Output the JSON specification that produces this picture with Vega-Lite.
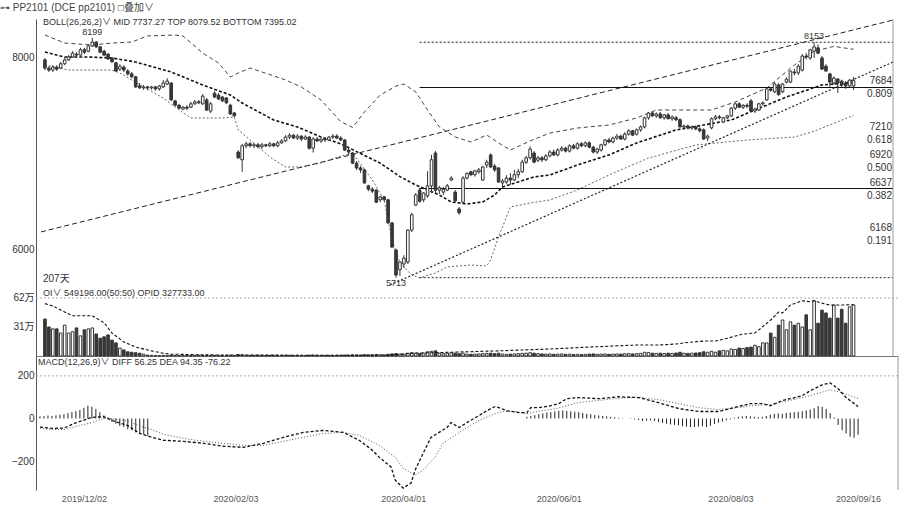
{
"$schema": "https://vega.github.io/schema/vega-lite/v6.json",
"background": "white",
"padding": {"left": 0, "top": 3, "right": 2, "bottom": 2},
"config": {"font": "'Liberation Sans', 'Noto Sans CJK SC', sans-serif", "view": {"stroke": null},
  "axis": {"labelFont": "'Liberation Sans', 'Noto Sans CJK SC', sans-serif", "labelFontSize": 10, "labelColor": "#333", "domainColor": "#555", "grid": false, "ticks": false, "title": null}},
"title": {"text": "⊶ PP2101   (DCE pp2101)   □叠加∨", "anchor": "start", "fontSize": 10, "fontWeight": "normal", "color": "#444", "offset": 5},
"spacing": 0,
"bounds": "flush",
"datasets": {
"k": [
{"i":0,"o":7970,"h":7990,"l":7865,"c":7885,"v":395000,"m":10},
{"i":1,"o":7885,"h":7905,"l":7845,"c":7865,"v":310000,"m":12},
{"i":2,"o":7865,"h":7915,"l":7845,"c":7895,"v":290000,"m":14},
{"i":3,"o":7895,"h":7915,"l":7855,"c":7875,"v":290000,"m":12},
{"i":4,"o":7885,"h":7950,"l":7875,"c":7930,"v":245000,"m":15},
{"i":5,"o":7930,"h":7990,"l":7915,"c":7970,"v":330000,"m":18},
{"i":6,"o":7970,"h":8020,"l":7960,"c":8000,"v":245000,"m":20},
{"i":7,"o":8000,"h":8060,"l":7990,"c":8040,"v":260000,"m":25},
{"i":8,"o":8030,"h":8050,"l":8000,"c":8020,"v":300000,"m":30},
{"i":9,"o":8020,"h":8095,"l":8010,"c":8075,"v":215000,"m":35},
{"i":10,"o":8075,"h":8095,"l":8030,"c":8050,"v":280000,"m":40},
{"i":11,"o":8060,"h":8135,"l":8050,"c":8115,"v":290000,"m":50},
{"i":12,"o":8115,"h":8199,"l":8105,"c":8155,"v":300000,"m":60},
{"i":13,"o":8155,"h":8165,"l":8095,"c":8105,"v":235000,"m":55},
{"i":14,"o":8105,"h":8115,"l":8040,"c":8050,"v":190000,"m":45},
{"i":15,"o":8060,"h":8075,"l":8010,"c":8020,"v":205000,"m":30},
{"i":16,"o":8030,"h":8040,"l":7970,"c":7980,"v":225000,"m":15},
{"i":17,"o":7990,"h":8000,"l":7940,"c":7950,"v":170000,"m":5},
{"i":18,"o":7940,"h":7950,"l":7845,"c":7855,"v":140000,"m":-15},
{"i":19,"o":7875,"h":7925,"l":7855,"c":7905,"v":85000,"m":-25},
{"i":20,"o":7895,"h":7915,"l":7845,"c":7865,"v":65000,"m":-35},
{"i":21,"o":7855,"h":7875,"l":7805,"c":7825,"v":45000,"m":-40},
{"i":22,"o":7825,"h":7845,"l":7780,"c":7795,"v":40000,"m":-50},
{"i":23,"o":7795,"h":7805,"l":7680,"c":7690,"v":35000,"m":-55},
{"i":24,"o":7700,"h":7730,"l":7670,"c":7680,"v":30000,"m":-65},
{"i":25,"o":7680,"h":7710,"l":7660,"c":7690,"v":20000,"m":-70},
{"i":26,"o":7690,"h":7700,"l":7660,"c":7680,"v":9000,"m":-75},
{"i":27,"o":7680,"h":7700,"l":7660,"c":7690,"v":7000,"m":-80},
{"i":28,"o":7690,"h":7700,"l":7650,"c":7670,"v":6000,"m":0},
{"i":29,"o":7670,"h":7710,"l":7650,"c":7700,"v":5000,"m":0},
{"i":30,"o":7690,"h":7760,"l":7680,"c":7730,"v":7000,"m":0},
{"i":31,"o":7720,"h":7780,"l":7710,"c":7750,"v":8000,"m":0},
{"i":32,"o":7730,"h":7740,"l":7545,"c":7555,"v":9000,"m":0},
{"i":33,"o":7545,"h":7555,"l":7490,"c":7500,"v":6000,"m":0},
{"i":34,"o":7500,"h":7515,"l":7460,"c":7470,"v":5000,"m":0},
{"i":35,"o":7460,"h":7490,"l":7450,"c":7480,"v":6000,"m":0},
{"i":36,"o":7480,"h":7500,"l":7450,"c":7470,"v":7000,"m":0},
{"i":37,"o":7480,"h":7535,"l":7470,"c":7515,"v":5000,"m":0},
{"i":38,"o":7515,"h":7555,"l":7505,"c":7535,"v":6000,"m":0},
{"i":39,"o":7535,"h":7555,"l":7515,"c":7525,"v":8000,"m":0},
{"i":40,"o":7515,"h":7615,"l":7505,"c":7595,"v":7000,"m":0},
{"i":41,"o":7555,"h":7575,"l":7440,"c":7450,"v":6000,"m":0},
{"i":42,"o":7440,"h":7535,"l":7420,"c":7515,"v":5000,"m":0},
{"i":43,"o":7625,"h":7645,"l":7575,"c":7585,"v":6000,"m":0},
{"i":44,"o":7605,"h":7625,"l":7555,"c":7565,"v":7000,"m":0},
{"i":45,"o":7585,"h":7595,"l":7535,"c":7545,"v":5000,"m":0},
{"i":46,"o":7575,"h":7585,"l":7515,"c":7525,"v":6000,"m":0},
{"i":47,"o":7500,"h":7515,"l":7400,"c":7410,"v":8000,"m":0},
{"i":48,"o":7420,"h":7430,"l":7380,"c":7390,"v":5000,"m":0},
{"i":49,"o":7015,"h":7035,"l":6945,"c":6955,"v":15000,"m":0},
{"i":50,"o":6935,"h":7100,"l":6810,"c":7080,"v":12000,"m":0},
{"i":51,"o":7080,"h":7120,"l":7055,"c":7100,"v":8000,"m":0},
{"i":52,"o":7100,"h":7120,"l":7065,"c":7080,"v":7000,"m":0},
{"i":53,"o":7080,"h":7110,"l":7055,"c":7090,"v":6000,"m":0},
{"i":54,"o":7090,"h":7110,"l":7055,"c":7070,"v":7000,"m":0},
{"i":55,"o":7070,"h":7110,"l":7045,"c":7090,"v":6000,"m":0},
{"i":56,"o":7090,"h":7100,"l":7065,"c":7080,"v":5000,"m":0},
{"i":57,"o":7080,"h":7120,"l":7065,"c":7100,"v":6000,"m":0},
{"i":58,"o":7100,"h":7110,"l":7065,"c":7080,"v":7000,"m":0},
{"i":59,"o":7080,"h":7130,"l":7065,"c":7110,"v":6000,"m":0},
{"i":60,"o":7110,"h":7150,"l":7100,"c":7130,"v":8000,"m":0},
{"i":61,"o":7130,"h":7190,"l":7120,"c":7170,"v":9000,"m":0},
{"i":62,"o":7170,"h":7210,"l":7150,"c":7190,"v":7000,"m":0},
{"i":63,"o":7190,"h":7200,"l":7150,"c":7160,"v":6000,"m":0},
{"i":64,"o":7160,"h":7200,"l":7140,"c":7180,"v":7000,"m":0},
{"i":65,"o":7180,"h":7190,"l":7130,"c":7150,"v":6000,"m":0},
{"i":66,"o":7150,"h":7190,"l":7140,"c":7170,"v":5000,"m":0},
{"i":67,"o":7170,"h":7180,"l":7040,"c":7055,"v":9000,"m":0},
{"i":68,"o":7055,"h":7170,"l":7010,"c":7150,"v":10000,"m":0},
{"i":69,"o":7150,"h":7170,"l":7120,"c":7130,"v":7000,"m":0},
{"i":70,"o":7130,"h":7160,"l":7110,"c":7150,"v":6000,"m":0},
{"i":71,"o":7150,"h":7170,"l":7120,"c":7140,"v":6000,"m":0},
{"i":72,"o":7140,"h":7180,"l":7130,"c":7170,"v":7000,"m":0},
{"i":73,"o":7170,"h":7200,"l":7150,"c":7180,"v":6000,"m":0},
{"i":74,"o":7180,"h":7200,"l":7150,"c":7160,"v":7000,"m":0},
{"i":75,"o":7160,"h":7180,"l":7130,"c":7140,"v":8000,"m":0},
{"i":76,"o":7140,"h":7150,"l":7025,"c":7035,"v":10000,"m":0},
{"i":77,"o":7035,"h":7065,"l":6985,"c":7015,"v":9000,"m":0},
{"i":78,"o":7005,"h":7015,"l":6890,"c":6900,"v":12000,"m":0},
{"i":79,"o":6900,"h":6920,"l":6830,"c":6850,"v":11000,"m":0},
{"i":80,"o":6850,"h":6870,"l":6800,"c":6830,"v":10000,"m":0},
{"i":81,"o":6830,"h":6840,"l":6685,"c":6695,"v":14000,"m":0},
{"i":82,"o":6665,"h":6675,"l":6610,"c":6630,"v":12000,"m":0},
{"i":83,"o":6630,"h":6650,"l":6590,"c":6610,"v":11000,"m":0},
{"i":84,"o":6620,"h":6630,"l":6485,"c":6495,"v":15000,"m":0},
{"i":85,"o":6520,"h":6560,"l":6495,"c":6550,"v":12000,"m":0},
{"i":86,"o":6550,"h":6560,"l":6505,"c":6520,"v":11000,"m":0},
{"i":87,"o":6520,"h":6530,"l":6270,"c":6280,"v":18000,"m":0},
{"i":88,"o":6280,"h":6290,"l":6020,"c":6030,"v":22000,"m":0},
{"i":89,"o":6000,"h":6010,"l":5713,"c":5740,"v":25000,"m":0},
{"i":90,"o":5795,"h":5885,"l":5730,"c":5875,"v":20000,"m":0},
{"i":91,"o":5855,"h":5945,"l":5815,"c":5915,"v":18000,"m":0},
{"i":92,"o":5875,"h":6215,"l":5855,"c":6205,"v":30000,"m":0},
{"i":93,"o":6205,"h":6385,"l":6185,"c":6365,"v":35000,"m":0},
{"i":94,"o":6465,"h":6590,"l":6455,"c":6570,"v":30000,"m":0},
{"i":95,"o":6620,"h":6645,"l":6490,"c":6505,"v":25000,"m":0},
{"i":96,"o":6520,"h":6600,"l":6495,"c":6590,"v":30000,"m":0},
{"i":97,"o":6560,"h":6815,"l":6540,"c":6665,"v":45000,"m":0},
{"i":98,"o":6665,"h":6985,"l":6590,"c":6935,"v":50000,"m":0},
{"i":99,"o":7005,"h":7025,"l":6590,"c":6620,"v":55000,"m":0},
{"i":100,"o":6620,"h":6665,"l":6580,"c":6645,"v":30000,"m":0},
{"i":101,"o":6600,"h":6655,"l":6570,"c":6630,"v":25000,"m":0},
{"i":102,"o":6620,"h":6685,"l":6610,"c":6665,"v":30000,"m":0},
{"i":103,"o":6725,"h":6765,"l":6715,"c":6745,"v":35000,"m":0},
{"i":104,"o":6600,"h":6620,"l":6495,"c":6510,"v":30000,"m":0},
{"i":105,"o":6425,"h":6445,"l":6365,"c":6385,"v":25000,"m":0},
{"i":106,"o":6495,"h":6765,"l":6475,"c":6745,"v":30000,"m":0},
{"i":107,"o":6745,"h":6800,"l":6730,"c":6795,"v":20000,"m":0},
{"i":108,"o":6810,"h":6820,"l":6765,"c":6780,"v":18000,"m":0},
{"i":109,"o":6780,"h":6830,"l":6760,"c":6820,"v":20000,"m":0},
{"i":110,"o":6810,"h":6850,"l":6790,"c":6830,"v":22000,"m":0},
{"i":111,"o":6725,"h":6870,"l":6715,"c":6860,"v":25000,"m":0},
{"i":112,"o":6880,"h":6935,"l":6850,"c":6910,"v":28000,"m":0},
{"i":113,"o":6985,"h":7000,"l":6850,"c":6860,"v":30000,"m":0},
{"i":114,"o":6870,"h":6890,"l":6810,"c":6830,"v":25000,"m":0},
{"i":115,"o":6850,"h":6860,"l":6695,"c":6705,"v":30000,"m":0},
{"i":116,"o":6695,"h":6735,"l":6640,"c":6715,"v":20000,"m":0},
{"i":117,"o":6705,"h":6775,"l":6685,"c":6745,"v":18000,"m":0},
{"i":118,"o":6745,"h":6795,"l":6675,"c":6725,"v":20000,"m":0},
{"i":119,"o":6725,"h":6830,"l":6715,"c":6780,"v":22000,"m":0},
{"i":120,"o":6780,"h":6840,"l":6745,"c":6810,"v":25000,"m":0},
{"i":121,"o":6810,"h":6935,"l":6800,"c":6910,"v":28000,"m":0},
{"i":122,"o":6910,"h":6975,"l":6890,"c":6955,"v":30000,"m":8},
{"i":123,"o":6955,"h":7075,"l":6935,"c":7045,"v":35000,"m":12},
{"i":124,"o":7005,"h":7025,"l":6900,"c":6910,"v":30000,"m":16},
{"i":125,"o":6930,"h":6975,"l":6910,"c":6955,"v":25000,"m":20},
{"i":126,"o":6955,"h":6975,"l":6910,"c":6935,"v":22000,"m":24},
{"i":127,"o":6935,"h":6995,"l":6920,"c":6975,"v":20000,"m":28},
{"i":128,"o":6975,"h":7035,"l":6960,"c":7015,"v":22000,"m":30},
{"i":129,"o":7015,"h":7040,"l":6975,"c":6985,"v":18000,"m":34},
{"i":130,"o":6985,"h":7055,"l":6970,"c":7035,"v":20000,"m":36},
{"i":131,"o":7035,"h":7075,"l":7020,"c":7055,"v":22000,"m":38},
{"i":132,"o":7055,"h":7070,"l":7010,"c":7025,"v":18000,"m":36},
{"i":133,"o":7025,"h":7095,"l":7010,"c":7080,"v":20000,"m":34},
{"i":134,"o":7080,"h":7100,"l":7045,"c":7055,"v":16000,"m":32},
{"i":135,"o":7055,"h":7115,"l":7040,"c":7100,"v":18000,"m":30},
{"i":136,"o":7100,"h":7120,"l":7065,"c":7080,"v":15000,"m":26},
{"i":137,"o":7080,"h":7125,"l":7065,"c":7110,"v":17000,"m":22},
{"i":138,"o":7110,"h":7125,"l":7055,"c":7065,"v":20000,"m":20},
{"i":139,"o":7065,"h":7080,"l":7000,"c":7015,"v":22000,"m":16},
{"i":140,"o":7015,"h":7060,"l":6995,"c":7045,"v":18000,"m":14},
{"i":141,"o":7035,"h":7100,"l":7020,"c":7090,"v":20000,"m":12},
{"i":142,"o":7090,"h":7150,"l":7075,"c":7140,"v":22000,"m":10},
{"i":143,"o":7140,"h":7160,"l":7105,"c":7120,"v":18000,"m":8},
{"i":144,"o":7120,"h":7175,"l":7105,"c":7160,"v":20000,"m":6},
{"i":145,"o":7160,"h":7200,"l":7140,"c":7180,"v":22000,"m":4},
{"i":146,"o":7180,"h":7195,"l":7140,"c":7150,"v":20000,"m":2},
{"i":147,"o":7150,"h":7220,"l":7135,"c":7200,"v":24000,"m":0},
{"i":148,"o":7200,"h":7250,"l":7185,"c":7235,"v":26000,"m":-2},
{"i":149,"o":7235,"h":7245,"l":7180,"c":7190,"v":22000,"m":-4},
{"i":150,"o":7200,"h":7260,"l":7185,"c":7245,"v":25000,"m":-8},
{"i":151,"o":7245,"h":7290,"l":7225,"c":7275,"v":28000,"m":-12},
{"i":152,"o":7275,"h":7380,"l":7260,"c":7370,"v":40000,"m":-10},
{"i":153,"o":7370,"h":7430,"l":7350,"c":7420,"v":38000,"m":-8},
{"i":154,"o":7420,"h":7440,"l":7380,"c":7390,"v":30000,"m":-12},
{"i":155,"o":7390,"h":7425,"l":7370,"c":7410,"v":28000,"m":-16},
{"i":156,"o":7410,"h":7430,"l":7360,"c":7370,"v":30000,"m":-20},
{"i":157,"o":7370,"h":7410,"l":7350,"c":7400,"v":26000,"m":-24},
{"i":158,"o":7400,"h":7420,"l":7355,"c":7360,"v":30000,"m":-28},
{"i":159,"o":7360,"h":7395,"l":7340,"c":7380,"v":28000,"m":-30},
{"i":160,"o":7370,"h":7390,"l":7335,"c":7350,"v":32000,"m":-32},
{"i":161,"o":7350,"h":7365,"l":7270,"c":7275,"v":40000,"m":-36},
{"i":162,"o":7275,"h":7300,"l":7245,"c":7285,"v":30000,"m":-38},
{"i":163,"o":7285,"h":7300,"l":7250,"c":7265,"v":28000,"m":-40},
{"i":164,"o":7265,"h":7290,"l":7245,"c":7275,"v":30000,"m":-40},
{"i":165,"o":7275,"h":7290,"l":7240,"c":7255,"v":32000,"m":-38},
{"i":166,"o":7255,"h":7270,"l":7220,"c":7235,"v":35000,"m":-36},
{"i":167,"o":7245,"h":7260,"l":7140,"c":7150,"v":45000,"m":-40},
{"i":168,"o":7160,"h":7195,"l":7130,"c":7180,"v":40000,"m":-34},
{"i":169,"o":7265,"h":7375,"l":7250,"c":7360,"v":50000,"m":-26},
{"i":170,"o":7360,"h":7400,"l":7345,"c":7380,"v":40000,"m":-20},
{"i":171,"o":7380,"h":7400,"l":7355,"c":7370,"v":55000,"m":-14},
{"i":172,"o":7325,"h":7380,"l":7315,"c":7370,"v":60000,"m":-8},
{"i":173,"o":7370,"h":7400,"l":7355,"c":7390,"v":55000,"m":-4},
{"i":174,"o":7390,"h":7480,"l":7380,"c":7470,"v":75000,"m":4},
{"i":175,"o":7470,"h":7525,"l":7450,"c":7515,"v":70000,"m":8},
{"i":176,"o":7515,"h":7530,"l":7470,"c":7480,"v":85000,"m":10},
{"i":177,"o":7480,"h":7510,"l":7460,"c":7500,"v":80000,"m":12},
{"i":178,"o":7500,"h":7520,"l":7470,"c":7490,"v":90000,"m":10},
{"i":179,"o":7545,"h":7565,"l":7430,"c":7440,"v":95000,"m":8},
{"i":180,"o":7440,"h":7475,"l":7420,"c":7460,"v":115000,"m":6},
{"i":181,"o":7450,"h":7525,"l":7440,"c":7515,"v":100000,"m":8},
{"i":182,"o":7515,"h":7540,"l":7495,"c":7525,"v":140000,"m":12},
{"i":183,"o":7555,"h":7680,"l":7545,"c":7670,"v":140000,"m":18},
{"i":184,"o":7670,"h":7690,"l":7640,"c":7655,"v":245000,"m":22},
{"i":185,"o":7640,"h":7740,"l":7625,"c":7720,"v":200000,"m":24},
{"i":186,"o":7710,"h":7730,"l":7600,"c":7610,"v":330000,"m":22},
{"i":187,"o":7640,"h":7730,"l":7625,"c":7720,"v":385000,"m":26},
{"i":188,"o":7740,"h":7790,"l":7725,"c":7770,"v":280000,"m":28},
{"i":189,"o":7740,"h":7860,"l":7730,"c":7855,"v":365000,"m":30},
{"i":190,"o":7845,"h":7875,"l":7810,"c":7835,"v":330000,"m":32},
{"i":191,"o":7835,"h":7925,"l":7815,"c":7905,"v":350000,"m":34},
{"i":192,"o":7865,"h":8030,"l":7850,"c":8010,"v":310000,"m":38},
{"i":193,"o":8010,"h":8040,"l":7975,"c":8000,"v":440000,"m":42},
{"i":194,"o":7990,"h":8085,"l":7970,"c":8075,"v":280000,"m":48},
{"i":195,"o":8060,"h":8153,"l":7990,"c":8105,"v":590000,"m":58},
{"i":196,"o":8095,"h":8130,"l":8030,"c":8040,"v":350000,"m":55},
{"i":197,"o":7990,"h":8010,"l":7865,"c":7875,"v":490000,"m":45},
{"i":198,"o":7905,"h":7925,"l":7845,"c":7855,"v":460000,"m":25},
{"i":199,"o":7825,"h":7835,"l":7690,"c":7740,"v":405000,"m":5},
{"i":200,"o":7730,"h":7800,"l":7710,"c":7782,"v":545000,"m":-30},
{"i":201,"o":7772,"h":7782,"l":7627,"c":7730,"v":405000,"m":-55},
{"i":202,"o":7750,"h":7765,"l":7690,"c":7710,"v":500000,"m":-70},
{"i":203,"o":7730,"h":7750,"l":7670,"c":7700,"v":350000,"m":-85},
{"i":204,"o":7700,"h":7770,"l":7680,"c":7760,"v":525000,"m":-90},
{"i":205,"o":7700,"h":7793,"l":7658,"c":7755,"v":545000,"m":-76}
],
"top": [{"i":0,"v":8228},{"i":5,"v":8145},{"i":12,"v":8124},{"i":17,"v":8145},{"i":22,"v":8155},{"i":26,"v":8218},{"i":33,"v":8228},{"i":35,"v":8218},{"i":40,"v":8041},{"i":44,"v":7938},{"i":47,"v":7793},{"i":49,"v":7834},{"i":52,"v":7886},{"i":57,"v":7818},{"i":61,"v":7762},{"i":65,"v":7689},{"i":70,"v":7554},{"i":75,"v":7330},{"i":78,"v":7270},{"i":81,"v":7430},{"i":85,"v":7606},{"i":89,"v":7699},{"i":91,"v":7720},{"i":94,"v":7638},{"i":97,"v":7451},{"i":100,"v":7275},{"i":104,"v":7171},{"i":108,"v":7119},{"i":112,"v":7192},{"i":115,"v":7109},{"i":118,"v":7036},{"i":123,"v":7130},{"i":128,"v":7212},{"i":135,"v":7264},{"i":143,"v":7295},{"i":150,"v":7368},{"i":155,"v":7451},{"i":163,"v":7451},{"i":169,"v":7451},{"i":175,"v":7534},{"i":183,"v":7679},{"i":190,"v":7917},{"i":195,"v":8060},{"i":200,"v":8110},{"i":205,"v":8080}],
"mid": [{"i":0,"v":8052},{"i":5,"v":8000},{"i":11,"v":8000},{"i":17,"v":7990},{"i":23,"v":7948},{"i":32,"v":7845},{"i":40,"v":7710},{"i":47,"v":7606},{"i":50,"v":7523},{"i":58,"v":7347},{"i":64,"v":7275},{"i":70,"v":7171},{"i":75,"v":7100},{"i":78,"v":7040},{"i":85,"v":6900},{"i":90,"v":6760},{"i":94,"v":6674},{"i":100,"v":6570},{"i":103,"v":6497},{"i":107,"v":6477},{"i":111,"v":6497},{"i":114,"v":6570},{"i":116,"v":6653},{"i":120,"v":6705},{"i":124,"v":6757},{"i":128,"v":6777},{"i":135,"v":6881},{"i":143,"v":6985},{"i":150,"v":7109},{"i":160,"v":7244},{"i":174,"v":7347},{"i":180,"v":7451},{"i":188,"v":7586},{"i":197,"v":7710},{"i":205,"v":7737}],
"bot": [{"i":0,"v":7917},{"i":6,"v":7865},{"i":17,"v":7865},{"i":19,"v":7834},{"i":25,"v":7689},{"i":30,"v":7575},{"i":33,"v":7482},{"i":37,"v":7368},{"i":45,"v":7368},{"i":48,"v":7378},{"i":49,"v":7244},{"i":52,"v":7140},{"i":57,"v":6964},{"i":61,"v":6860},{"i":65,"v":6860},{"i":70,"v":6902},{"i":75,"v":6974},{"i":78,"v":7005},{"i":83,"v":6725},{"i":86,"v":6518},{"i":88,"v":6104},{"i":90,"v":5865},{"i":93,"v":5741},{"i":95,"v":5710},{"i":99,"v":5761},{"i":102,"v":5824},{"i":108,"v":5844},{"i":112,"v":5834},{"i":113,"v":5896},{"i":115,"v":6135},{"i":118,"v":6445},{"i":123,"v":6487},{"i":128,"v":6518},{"i":135,"v":6622},{"i":143,"v":6777},{"i":153,"v":6953},{"i":165,"v":7088},{"i":178,"v":7140},{"i":190,"v":7170},{"i":195,"v":7230},{"i":205,"v":7395}],
"oi": [{"i":0,"v":560000},{"i":2,"v":535000},{"i":5,"v":470000},{"i":7,"v":430000},{"i":12,"v":430000},{"i":15,"v":355000},{"i":17,"v":245000},{"i":20,"v":150000},{"i":23,"v":95000},{"i":27,"v":55000},{"i":30,"v":30000},{"i":32,"v":20000},{"i":40,"v":12000},{"i":52,"v":10000},{"i":65,"v":8000},{"i":81,"v":8000},{"i":88,"v":12000},{"i":93,"v":30000},{"i":103,"v":40000},{"i":115,"v":55000},{"i":128,"v":75000},{"i":143,"v":105000},{"i":150,"v":117000},{"i":155,"v":117000},{"i":160,"v":128000},{"i":162,"v":140000},{"i":167,"v":160000},{"i":170,"v":160000},{"i":173,"v":190000},{"i":177,"v":235000},{"i":180,"v":245000},{"i":181,"v":280000},{"i":184,"v":385000},{"i":186,"v":470000},{"i":187,"v":460000},{"i":189,"v":545000},{"i":192,"v":590000},{"i":194,"v":580000},{"i":195,"v":590000},{"i":197,"v":565000},{"i":199,"v":545000},{"i":202,"v":545000},{"i":205,"v":549198}],
"dif": [{"i":0,"v":-40},{"i":3,"v":-46},{"i":6,"v":-45},{"i":9,"v":-20},{"i":13,"v":5},{"i":16,"v":9},{"i":18,"v":-9},{"i":22,"v":-33},{"i":25,"v":-70},{"i":28,"v":-88},{"i":31,"v":-102},{"i":36,"v":-107},{"i":41,"v":-116},{"i":46,"v":-130},{"i":51,"v":-135},{"i":56,"v":-116},{"i":61,"v":-88},{"i":66,"v":-65},{"i":71,"v":-56},{"i":76,"v":-65},{"i":80,"v":-102},{"i":83,"v":-144},{"i":85,"v":-181},{"i":88,"v":-228},{"i":89,"v":-288},{"i":91,"v":-326},{"i":93,"v":-302},{"i":94,"v":-242},{"i":96,"v":-163},{"i":98,"v":-88},{"i":100,"v":-65},{"i":102,"v":-42},{"i":103,"v":-19},{"i":105,"v":-42},{"i":107,"v":-19},{"i":110,"v":14},{"i":112,"v":37},{"i":114,"v":56},{"i":115,"v":51},{"i":117,"v":37},{"i":120,"v":28},{"i":122,"v":28},{"i":123,"v":51},{"i":125,"v":51},{"i":128,"v":60},{"i":130,"v":70},{"i":132,"v":93},{"i":135,"v":98},{"i":140,"v":93},{"i":145,"v":102},{"i":150,"v":98},{"i":155,"v":74},{"i":160,"v":47},{"i":165,"v":33},{"i":170,"v":33},{"i":175,"v":56},{"i":178,"v":70},{"i":181,"v":70},{"i":183,"v":60},{"i":186,"v":84},{"i":188,"v":93},{"i":191,"v":107},{"i":193,"v":130},{"i":196,"v":158},{"i":198,"v":167},{"i":200,"v":140},{"i":202,"v":98},{"i":205,"v":56.25}],
"dea": [{"i":0,"v":-45},{"i":3,"v":-52},{"i":6,"v":-52},{"i":9,"v":-37},{"i":13,"v":-19},{"i":16,"v":0},{"i":18,"v":0},{"i":22,"v":-12},{"i":25,"v":-35},{"i":28,"v":-52},{"i":31,"v":-74},{"i":36,"v":-93},{"i":41,"v":-107},{"i":46,"v":-116},{"i":51,"v":-126},{"i":56,"v":-126},{"i":61,"v":-107},{"i":66,"v":-88},{"i":71,"v":-70},{"i":76,"v":-65},{"i":80,"v":-79},{"i":85,"v":-126},{"i":89,"v":-181},{"i":91,"v":-233},{"i":94,"v":-265},{"i":96,"v":-242},{"i":99,"v":-181},{"i":101,"v":-116},{"i":104,"v":-79},{"i":107,"v":-42},{"i":110,"v":-9},{"i":114,"v":23},{"i":116,"v":33},{"i":119,"v":33},{"i":122,"v":22},{"i":125,"v":35},{"i":129,"v":45},{"i":132,"v":60},{"i":135,"v":75},{"i":140,"v":85},{"i":145,"v":95},{"i":150,"v":100},{"i":155,"v":88},{"i":160,"v":70},{"i":165,"v":51},{"i":170,"v":42},{"i":175,"v":51},{"i":178,"v":60},{"i":183,"v":65},{"i":188,"v":85},{"i":193,"v":107},{"i":198,"v":135},{"i":201,"v":121},{"i":205,"v":94.35}],
"fibsolid": [{"lv":7684},{"lv":6637}],
"fibdot": [{"lv":8153},{"lv":5713}],
"fiblab": [{"lv":7684,"t":"7684","r":"0.809"},{"lv":7210,"t":"7210","r":"0.618"},{"lv":6920,"t":"6920","r":"0.500"},{"lv":6637,"t":"6637","r":"0.382"},{"lv":6168,"t":"6168","r":"0.191"}],
"highs": [{"i":12,"p":8199,"t":"8199"},{"i":195,"p":8153,"t":"8153"}],
"lows": [{"i":89,"p":5713,"t":"5713"}],
"trendup": [{"i1":-1,"p1":6187,"i2":215,"p2":8383}],
"trendlow": [{"i1":87.5,"p1":5637,"i2":215,"p2":7948}]
},
"vconcat": [
{
 "width": 862, "height": 271,
 "layer": [
  {"data": {"name": "top"}, "mark": {"type": "line", "stroke": "#444", "strokeWidth": 1, "strokeDash": [4, 3], "clip": true},
   "encoding": {"x": {"field": "i", "type": "quantitative", "scale": {"domain": [-1, 215], "nice": false, "zero": false}, "axis": null},
     "y": {"field": "v", "type": "quantitative", "scale": {"domain": [5585, 8394], "nice": false, "zero": false},
       "axis": {"values": [6000, 8000], "format": "d", "labelPadding": 2, "minExtent": 36, "maxExtent": 36}}}},
  {"data": {"name": "mid"}, "mark": {"type": "line", "stroke": "#111", "strokeWidth": 1.6, "strokeDash": [3, 2], "clip": true},
   "encoding": {"x": {"field": "i", "type": "quantitative"}, "y": {"field": "v", "type": "quantitative"}}},
  {"data": {"name": "bot"}, "mark": {"type": "line", "stroke": "#666", "strokeWidth": 1, "strokeDash": [2, 2], "clip": true},
   "encoding": {"x": {"field": "i", "type": "quantitative"}, "y": {"field": "v", "type": "quantitative"}}},
  {"data": {"name": "trendup"}, "mark": {"type": "rule", "stroke": "#222", "strokeWidth": 1, "strokeDash": [5, 3], "clip": true},
   "encoding": {"x": {"field": "i1", "type": "quantitative"}, "y": {"field": "p1", "type": "quantitative"}, "x2": {"field": "i2"}, "y2": {"field": "p2"}}},
  {"data": {"name": "trendlow"}, "mark": {"type": "rule", "stroke": "#222", "strokeWidth": 1.2, "strokeDash": [2, 2], "clip": true},
   "encoding": {"x": {"field": "i1", "type": "quantitative"}, "y": {"field": "p1", "type": "quantitative"}, "x2": {"field": "i2"}, "y2": {"field": "p2"}}},
  {"data": {"name": "fibsolid"}, "mark": {"type": "rule", "stroke": "#111", "strokeWidth": 1.2},
   "encoding": {"x": {"datum": 95, "type": "quantitative"}, "x2": {"datum": 215}, "y": {"field": "lv", "type": "quantitative"}}},
  {"data": {"name": "fibdot"}, "mark": {"type": "rule", "stroke": "#222", "strokeWidth": 1, "strokeDash": [2, 2]},
   "encoding": {"x": {"datum": 95, "type": "quantitative"}, "x2": {"datum": 215}, "y": {"field": "lv", "type": "quantitative"}}},
  {"data": {"name": "k"}, "mark": {"type": "rule", "stroke": "#333", "strokeWidth": 1},
   "encoding": {"x": {"field": "i", "type": "quantitative"}, "y": {"field": "l", "type": "quantitative"}, "y2": {"field": "h"}}},
  {"data": {"name": "k"}, "mark": {"type": "bar", "size": 2.6, "stroke": "#333", "strokeWidth": 1},
   "encoding": {"x": {"field": "i", "type": "quantitative"}, "y": {"field": "o", "type": "quantitative"}, "y2": {"field": "c"},
     "fill": {"condition": {"test": "datum.c >= datum.o", "value": "#ffffff"}, "value": "#3a3a3a"}}},
  {"data": {"name": "fiblab"}, "mark": {"type": "text", "align": "right", "baseline": "bottom", "dx": -1, "dy": -1, "fontSize": 10, "color": "#333"},
   "encoding": {"x": {"datum": 215, "type": "quantitative"}, "y": {"field": "lv", "type": "quantitative"}, "text": {"field": "t"}}},
  {"data": {"name": "fiblab"}, "mark": {"type": "text", "align": "right", "baseline": "top", "dx": -1, "dy": 2, "fontSize": 10, "color": "#333"},
   "encoding": {"x": {"datum": 215, "type": "quantitative"}, "y": {"field": "lv", "type": "quantitative"}, "text": {"field": "r"}}},
  {"data": {"name": "highs"}, "mark": {"type": "text", "align": "center", "baseline": "bottom", "dy": -1, "fontSize": 9, "color": "#333"},
   "encoding": {"x": {"field": "i", "type": "quantitative"}, "y": {"field": "p", "type": "quantitative"}, "text": {"field": "t"}}},
  {"data": {"name": "lows"}, "mark": {"type": "text", "align": "center", "baseline": "top", "dy": 1, "fontSize": 9, "color": "#333"},
   "encoding": {"x": {"field": "i", "type": "quantitative"}, "y": {"field": "p", "type": "quantitative"}, "text": {"field": "t"}}},
  {"data": {"values": [{}]}, "mark": {"type": "text", "align": "left", "baseline": "middle", "fontSize": 9, "color": "#333"},
   "encoding": {"x": {"datum": -0.5, "type": "quantitative"}, "y": {"datum": 8360, "type": "quantitative"}, "text": {"value": "BOLL(26,26,2)∨  MID 7737.27  TOP 8079.52  BOTTOM 7395.02"}}},
  {"data": {"values": [{}]}, "mark": {"type": "text", "align": "left", "baseline": "middle", "fontSize": 10, "color": "#333"},
   "encoding": {"x": {"datum": -0.5, "type": "quantitative"}, "y": {"datum": 5700, "type": "quantitative"}, "text": {"value": "207天"}}},
  {"data": {"values": [{}]}, "mark": {"type": "rule", "stroke": "#999", "strokeWidth": 1},
   "encoding": {"x": {"datum": 215, "type": "quantitative"}}}
 ]
},
{
 "width": 862, "height": 66,
 "layer": [
  {"data": {"values": [{}]}, "mark": {"type": "rule", "stroke": "#aaa", "strokeWidth": 1, "strokeDash": [2, 2]},
   "encoding": {"y": {"datum": 620000, "type": "quantitative", "scale": {"domain": [0, 705500], "nice": false, "zero": true},
       "axis": {"values": [310000, 620000], "labelExpr": "datum.value == 620000 ? '62万' : '31万'", "labelPadding": 2, "minExtent": 36, "maxExtent": 36}}}},
  {"data": {"name": "k"}, "mark": {"type": "bar", "size": 2.6, "stroke": "#333", "strokeWidth": 1},
   "encoding": {"x": {"field": "i", "type": "quantitative", "scale": {"domain": [-1, 215], "nice": false, "zero": false},
       "axis": {"labels": false, "ticks": false, "domain": true, "domainColor": "#777"}},
     "y": {"field": "v", "type": "quantitative"},
     "fill": {"condition": {"test": "datum.c >= datum.o", "value": "#ffffff"}, "value": "#3a3a3a"}}},
  {"data": {"name": "oi"}, "mark": {"type": "line", "stroke": "#111", "strokeWidth": 1.1, "strokeDash": [3, 2]},
   "encoding": {"x": {"field": "i", "type": "quantitative"}, "y": {"field": "v", "type": "quantitative"}}},
  {"data": {"values": [{}]}, "mark": {"type": "text", "align": "left", "baseline": "middle", "fontSize": 9, "color": "#333"},
   "encoding": {"x": {"datum": -0.5, "type": "quantitative"}, "y": {"datum": 673000, "type": "quantitative"}, "text": {"value": "OI∨  549198.00(50:50)  OPID 327733.00"}}},
  {"data": {"values": [{}]}, "mark": {"type": "rule", "stroke": "#999", "strokeWidth": 1},
   "encoding": {"x": {"datum": 215, "type": "quantitative"}}}
 ]
},
{
 "width": 862, "height": 134,
 "layer": [
  {"data": {"values": [{}]}, "mark": {"type": "rule", "stroke": "#aaa", "strokeWidth": 1, "strokeDash": [2, 2]},
   "encoding": {"y": {"datum": 200, "type": "quantitative", "scale": {"domain": [-335, 293], "nice": false, "zero": false},
       "axis": {"values": [-200, 0, 200], "labelPadding": 2, "minExtent": 36, "maxExtent": 36}}}},
  {"data": {"name": "k"}, "mark": {"type": "rule", "stroke": "#222", "strokeWidth": 1},
   "encoding": {"x": {"field": "i", "type": "quantitative", "scale": {"domain": [-1, 215], "nice": false, "zero": false},
       "axis": {"values": [11, 49, 91, 130, 173, 205], "domain": false, "labelFontSize": 9, "labelColor": "#555", "labelPadding": 4,
         "labelExpr": "datum.value == 11 ? '2019/12/02' : datum.value == 49 ? '2020/02/03' : datum.value == 91 ? '2020/04/01' : datum.value == 130 ? '2020/06/01' : datum.value == 173 ? '2020/08/03' : '2020/09/16'"}},
     "y": {"field": "m", "type": "quantitative"}, "y2": {"datum": 0}}},
  {"data": {"name": "dea"}, "mark": {"type": "line", "stroke": "#555", "strokeWidth": 1, "strokeDash": [1, 2]},
   "encoding": {"x": {"field": "i", "type": "quantitative"}, "y": {"field": "v", "type": "quantitative"}}},
  {"data": {"name": "dif"}, "mark": {"type": "line", "stroke": "#111", "strokeWidth": 1.3, "strokeDash": [3, 2]},
   "encoding": {"x": {"field": "i", "type": "quantitative"}, "y": {"field": "v", "type": "quantitative"}}},
  {"data": {"values": [{}]}, "mark": {"type": "text", "align": "left", "baseline": "middle", "fontSize": 9, "color": "#333"},
   "encoding": {"x": {"datum": -0.5, "type": "quantitative"}, "y": {"datum": 265, "type": "quantitative"}, "text": {"value": "MACD(12,26,9)∨  DIFF 56.25  DEA 94.35  -76.22"}}},
  {"data": {"values": [{}]}, "mark": {"type": "rule", "stroke": "#999", "strokeWidth": 1},
   "encoding": {"x": {"datum": 215, "type": "quantitative"}}}
 ]
}
]
}
